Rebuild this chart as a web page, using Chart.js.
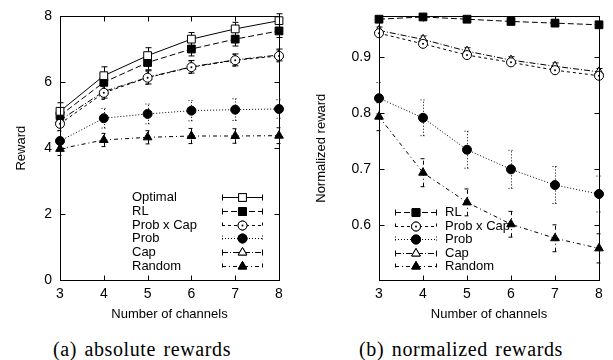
<!DOCTYPE html>
<html>
<head>
<meta charset="utf-8">
<script src="https://cdn.jsdelivr.net/npm/chart.js@4.4.1/dist/chart.umd.min.js"></script>
<style>
  body { margin: 0; background: #fff; width: 613px; height: 360px; position: relative; overflow: hidden; }
  .panel { position: absolute; top: 0; }
  .caption { position: absolute; top: 338px; font-family: 'Liberation Serif', serif; font-size: 20px; color: #000; text-align: center; letter-spacing: 0.6px; word-spacing: 2px; white-space: nowrap; }
</style>
</head>
<body>
<div class="panel" style="left:0;width:300px;height:325px"><canvas id="absChart" width="300" height="325"></canvas></div>
<div class="panel" style="left:300px;width:313px;height:325px"><canvas id="normChart" width="313" height="325"></canvas></div>
<div class="caption" style="left:42px;width:200px">(a) absolute rewards</div>
<div class="caption" style="left:351px;width:220px">(b) normalized rewards</div>
<script>
// x values
const channels = [3, 4, 5, 6, 7, 8];

// (a) absolute rewards
const absOptimal    = [5.12, 6.20, 6.81, 7.31, 7.62, 7.87];
const absOptimalErr = [0.26, 0.27, 0.24, 0.20, 0.20, 0.21];
const absRL         = [4.99, 6.00, 6.60, 7.01, 7.31, 7.56];
const absRLErr      = [0.22, 0.22, 0.22, 0.21, 0.21, 0.20];
const absProbCap    = [4.74, 5.68, 6.14, 6.46, 6.67, 6.80];
const absProbCapErr = [0.20, 0.20, 0.20, 0.19, 0.18, 0.18];
const absProb       = [4.22, 4.91, 5.04, 5.14, 5.17, 5.19];
const absProbErr    = [0.30, 0.30, 0.30, 0.31, 0.33, 0.28];
const absCap        = [4.85, 5.72, 6.15, 6.47, 6.68, 6.83];
const absCapErr     = [0.20, 0.20, 0.20, 0.19, 0.18, 0.18];
const absRandom     = [3.98, 4.25, 4.33, 4.37, 4.37, 4.38];
const absRandomErr  = [0.20, 0.20, 0.20, 0.23, 0.22, 0.24];

// (b) normalized rewards
const normRL         = [0.967, 0.971, 0.967, 0.963, 0.960, 0.957];
const normRLErr      = [0.004, 0.004, 0.004, 0.004, 0.004, 0.004];
const normProbCap    = [0.942, 0.923, 0.903, 0.890, 0.876, 0.866];
const normProbCapErr = [0.006, 0.006, 0.006, 0.006, 0.006, 0.006];
const normProb       = [0.826, 0.791, 0.734, 0.699, 0.671, 0.655];
const normProbErr    = [0.028, 0.032, 0.033, 0.034, 0.033, 0.032];
const normCap        = [0.947, 0.931, 0.910, 0.894, 0.883, 0.873];
const normCapErr     = [0.006, 0.006, 0.006, 0.006, 0.006, 0.006];
const normRandom     = [0.793, 0.693, 0.640, 0.601, 0.576, 0.558];
const normRandomErr  = [0.025, 0.025, 0.024, 0.023, 0.024, 0.026];

const absYTicks  = [0, 2, 4, 6, 8];
const normYTicks = [0.6, 0.7, 0.8, 0.9];
const xTicks     = [3, 4, 5, 6, 7, 8];

const FONT = "'Liberation Sans', Arial, sans-serif";

// line / marker look for each method
const styles = {
  'Optimal':    { dash: [],           point: 'rect',     radius: 5.5, fill: '#fff' },
  'RL':         { dash: [6, 3],       point: 'rect',     radius: 5.5, fill: '#000' },
  'Prob x Cap': { dash: [3, 3],       point: 'circle',   radius: 4.5, fill: '#fff', dot: true },
  'Prob':       { dash: [1, 2],       point: 'circle',   radius: 4.5, fill: '#000' },
  'Cap':        { dash: [6, 2, 1, 2], point: 'triangle', radius: 5,   fill: '#fff' },
  'Random':     { dash: [4, 3, 1, 3], point: 'triangle', radius: 5,   fill: '#000' }
};

function makeDataset(name, values, errors) {
  const s = styles[name];
  return {
    label: name,
    data: channels.map((c, i) => ({ x: c, y: values[i] })),
    errors: errors,
    dot: !!s.dot,
    borderColor: '#000',
    borderWidth: 1,
    borderDash: s.dash,
    pointStyle: s.point,
    pointRadius: s.radius,
    pointBackgroundColor: s.fill,
    pointBorderColor: '#000',
    pointBorderWidth: 1,
    fill: false,
    tension: 0,
    clip: false
  };
}

function drawMarker(ctx, name, px, py) {
  const s = styles[name];
  ctx.setLineDash([]);
  Chart.helpers.drawPoint(ctx, { pointStyle: s.point, radius: s.radius, borderWidth: 1 }, px, py);
  ctx.fillStyle = s.fill;
  ctx.fill();
  ctx.stroke();
  if (s.dot) {
    ctx.beginPath();
    ctx.arc(px, py, 1, 0, Math.PI * 2);
    ctx.fillStyle = '#000';
    ctx.fill();
  }
}

// error bars, frame with inward ticks, gnuplot style key
const gnuplotLook = {
  id: 'gnuplotLook',
  beforeDatasetsDraw(chart) {
    const { ctx, scales: { x, y } } = chart;
    ctx.save();
    ctx.strokeStyle = '#000';
    ctx.lineWidth = 1;
    chart.data.datasets.forEach(ds => {
      ctx.setLineDash(ds.borderDash);
      ds.data.forEach((p, i) => {
        const px = Math.round(x.getPixelForValue(p.x)) + 0.5;
        const lo = y.getPixelForValue(p.y - ds.errors[i]);
        const hi = y.getPixelForValue(p.y + ds.errors[i]);
        ctx.beginPath();
        ctx.moveTo(px, lo); ctx.lineTo(px, hi);
        ctx.moveTo(px - 3, lo); ctx.lineTo(px + 3, lo);
        ctx.moveTo(px - 3, hi); ctx.lineTo(px + 3, hi);
        ctx.stroke();
      });
    });
    ctx.restore();
  },
  afterDatasetsDraw(chart) {
    const { ctx, scales: { x, y } } = chart;
    ctx.save();
    chart.data.datasets.forEach(ds => {
      if (!ds.dot) return;
      ds.data.forEach(p => {
        ctx.beginPath();
        ctx.arc(x.getPixelForValue(p.x), y.getPixelForValue(p.y), 1, 0, Math.PI * 2);
        ctx.fillStyle = '#000';
        ctx.fill();
      });
    });
    ctx.restore();
  },
  afterDraw(chart, args, opts) {
    const { ctx, chartArea: a, scales: { x, y } } = chart;
    ctx.save();
    ctx.strokeStyle = '#000';
    ctx.lineWidth = 1;
    ctx.setLineDash([]);
    const L = Math.round(a.left) + 0.5, R = Math.round(a.right) + 0.5;
    const T = Math.round(a.top) + 0.5, B = Math.round(a.bottom) + 0.5;
    ctx.strokeRect(L, T, R - L, B - T);
    ctx.beginPath();
    opts.yTicks.forEach(v => {
      const py = Math.round(y.getPixelForValue(v)) + 0.5;
      ctx.moveTo(L, py); ctx.lineTo(L + 5, py);
      ctx.moveTo(R, py); ctx.lineTo(R - 5, py);
    });
    xTicks.forEach(v => {
      const px = Math.round(x.getPixelForValue(v)) + 0.5;
      ctx.moveTo(px, B); ctx.lineTo(px, B - 5);
      ctx.moveTo(px, T); ctx.lineTo(px, T + 5);
    });
    ctx.stroke();

    // key
    const k = opts.key;
    ctx.font = '13px ' + FONT;
    ctx.textBaseline = 'middle';
    ctx.textAlign = 'left';
    chart.data.datasets.forEach((ds, i) => {
      const ry = Math.round(k.y0 + i * k.dy) + 0.5;
      ctx.fillStyle = '#000';
      ctx.fillText(ds.label, k.textX, ry);
      ctx.strokeStyle = '#000';
      ctx.setLineDash(ds.borderDash);
      ctx.beginPath();
      ctx.moveTo(k.x0, ry); ctx.lineTo(k.x1, ry);
      ctx.moveTo(k.x0 + 0.5, ry - 3); ctx.lineTo(k.x0 + 0.5, ry + 3);
      ctx.moveTo(k.x1 - 0.5, ry - 3); ctx.lineTo(k.x1 - 0.5, ry + 3);
      ctx.stroke();
      drawMarker(ctx, ds.label, (k.x0 + k.x1) / 2, ry);
    });
    ctx.restore();
  }
};

function makeOptions(yMin, yMax, yTicks, yTitle, yWidth, padRight, key, fmt) {
  return {
    responsive: false,
    animation: false,
    layout: { padding: { top: 10, right: padRight, bottom: 0, left: 0 } },
    plugins: {
      legend: { display: false },
      tooltip: { enabled: false },
      gnuplotLook: { yTicks: yTicks, key: key }
    },
    scales: {
      x: {
        type: 'linear', min: 3, max: 8,
        grid: { display: false, drawTicks: false },
        border: { display: false },
        afterBuildTicks: s => { s.ticks = xTicks.map(v => ({ value: v })); },
        afterFit: s => { s.height = 45; },
        ticks: { color: '#000', font: { family: FONT, size: 14 }, padding: 6 },
        title: { display: true, text: 'Number of channels', color: '#000', font: { family: FONT, size: 13 }, padding: { top: 0, bottom: 3 } }
      },
      y: {
        type: 'linear', min: yMin, max: yMax,
        grid: { display: false, drawTicks: false },
        border: { display: false },
        afterBuildTicks: s => { s.ticks = yTicks.map(v => ({ value: v })); },
        afterFit: s => { s.width = yWidth; },
        ticks: { color: '#000', font: { family: FONT, size: 14 }, padding: 8, callback: fmt },
        title: { display: true, text: yTitle, color: '#000', font: { family: FONT, size: 13 }, padding: { top: 14, bottom: 0 } }
      }
    }
  };
}

new Chart(document.getElementById('absChart'), {
  type: 'line',
  data: {
    datasets: [
      makeDataset('Optimal', absOptimal, absOptimalErr),
      makeDataset('RL', absRL, absRLErr),
      makeDataset('Prob x Cap', absProbCap, absProbCapErr),
      makeDataset('Prob', absProb, absProbErr),
      makeDataset('Cap', absCap, absCapErr),
      makeDataset('Random', absRandom, absRandomErr)
    ]
  },
  options: makeOptions(0, 8, absYTicks, 'Reward', 60, 21,
    { x0: 222, x1: 263, textX: 132, y0: 197, dy: 13.8 }, v => String(v)),
  plugins: [gnuplotLook]
});

new Chart(document.getElementById('normChart'), {
  type: 'line',
  data: {
    datasets: [
      makeDataset('RL', normRL, normRLErr),
      makeDataset('Prob x Cap', normProbCap, normProbCapErr),
      makeDataset('Prob', normProb, normProbErr),
      makeDataset('Cap', normCap, normCapErr),
      makeDataset('Random', normRandom, normRandomErr)
    ]
  },
  options: makeOptions(0.5015, 0.972, normYTicks, 'Normalized reward', 79, 14,
    { x0: 95, x1: 137, textX: 145, y0: 212, dy: 13.6 }, v => v.toFixed(1)),
  plugins: [gnuplotLook]
});
</script>
</body>
</html>
